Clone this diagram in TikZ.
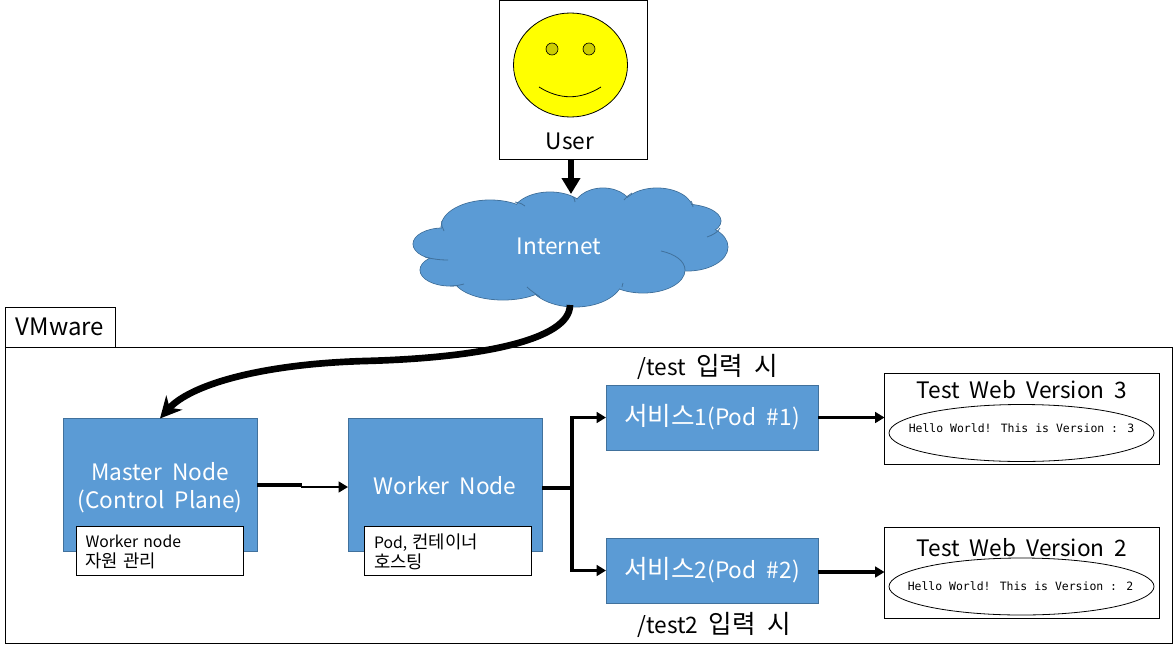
\documentclass[tikz,border=0pt]{standalone}
\usepackage{fontspec}
\usetikzlibrary{arrows.meta,shapes.geometric,calc}
\setmainfont[WordSpace=2]{Noto Sans CJK KR}
\newfontfamily\krf[Scale=1.13,WordSpace=2]{Noto Sans CJK KR}
\newfontfamily\monof{DejaVu Sans Mono}
\newcommand\kr[1]{{\krf #1}}
\definecolor{nodeblue}{HTML}{5B9BD5}
\definecolor{nodeedge}{HTML}{41719C}
\definecolor{eyeyellow}{HTML}{CDCD00}
\definecolor{faceyellow}{HTML}{FFFF00}
\tikzset{
  px/.style={x=0.75pt,y=-0.75pt},
  sized/.style n args={2}{rectangle,inner sep=0pt,outer sep=0pt,minimum width=0.75*#1pt,minimum height=0.75*#2pt},
  plainbox/.style={draw=black,fill=white,line width=0.75pt},
  bluebox/.style={draw=nodeedge,fill=nodeblue,line width=0.6pt,text=white,align=center},
  lab/.style={inner sep=0pt,outer sep=0pt,font=\fontsize{17}{20}\selectfont,align=center},
  notetext/.style={font=\fontsize{11.8}{15}\selectfont,align=left,text width=0.75*150pt},
  hello/.style={inner sep=0pt,font=\fontsize{8.6}{10}\monof},
  thin conn/.style={line width=2.6pt,-{Triangle[length=7pt,width=8pt]}},
  plain conn/.style={line width=2.6pt},
  blob/.style={fill=nodeblue},
  blobline/.style={draw=nodeedge,line width=0.6pt},
}
\begin{document}
\begin{tikzpicture}[px]
\useasboundingbox (0,0) rectangle (1173,653);
% VMware frame
\node[sized={1167}{296},plainbox] (frame) at (588.5,495) {};
\node[sized={110}{40},plainbox,font=\fontsize{18}{20}\selectfont] (tab) at (60,327) {VMware};
% User
\node[sized={148}{159},plainbox] (user) at (573,79.5) {};
\node[draw=black,fill=faceyellow,ellipse,line width=0.6pt,minimum width=0.75*114pt,minimum height=0.75*104pt,inner sep=0pt] (face) at (570.5,65) {};
\node[draw=black,fill=eyeyellow,circle,line width=0.5pt,minimum size=0.75*12pt,inner sep=0pt] (eyeL) at (552,49) {};
\node[draw=black,fill=eyeyellow,circle,line width=0.5pt,minimum size=0.75*12pt,inner sep=0pt] (eyeR) at (589,49) {};
\draw[line width=0.6pt] (539,87) .. controls (560,100) and (580,100) .. (601,87);
\node[lab] (usertext) at (570,141) {User};
% Cloud
\foreach \cx/\cy/\rx/\ry in {443/244/30/16,450/270/30/16,490/227/49/27,550/215/38/23,603/210/30/22,657/210/36/22,683/221/38/17,687/247/41/24,643/270/42/23,575/278/48/29,503/277/50/23}{
  \path[blobline,fill=nodeblue] (\cx,\cy) ellipse [x radius=\rx,y radius=\ry];
}
\foreach \cx/\cy/\rx/\ry in {443/244/30/16,450/270/30/16,490/227/49/27,550/215/38/23,603/210/30/22,657/210/36/22,683/221/38/17,687/247/41/24,643/270/42/23,575/278/48/29,503/277/50/23}{
  \path[blob] (\cx,\cy) ellipse [x radius=\rx-0.6,y radius=\ry-0.6];
}
\fill[blob] (450,232) -- (470,225) -- (530,205) -- (690,205) -- (700,235) -- (680,275) -- (620,285) -- (520,290) -- (470,285) -- (450,280) -- (440,262) -- (440,250) -- cycle;
\draw[blobline] (441.7,221) .. controls (441.5,225) and (442,228) .. (444,231);
\draw[blobline] (425,257) .. controls (432,259) and (440,260) .. (448,260);
\draw[blobline] (450,286) .. controls (456,286) and (460,285) .. (464,284);
\draw[blobline] (515,202) .. controls (520,203) and (523,204) .. (525,206);
\draw[blobline] (575,202) .. controls (575,200) and (574,198) .. (573,197);
\draw[blobline] (624,200) .. controls (626,197) and (629,195) .. (632,193);
\draw[blobline] (693,207) .. controls (693,205) and (692,203) .. (691,201);
\draw[blobline] (707,237) .. controls (713,235) and (718,232) .. (720,228);
\draw[blobline] (661,251) .. controls (675,254) and (685,261) .. (685,270);
\draw[blobline] (622,287) .. controls (622,285) and (623,284) .. (623,283);
\draw[blobline] (527,287) .. controls (531,291) and (536,294) .. (540,297);
\node[lab,text=white] (internet) at (559,246) {Internet};
\coordinate (cloudtop) at (571,194);
\coordinate (cloudbot) at (570,305);
% Nodes
\node[sized={194}{133},bluebox] (master) at (160,485) {};
\node[sized={194}{133},bluebox] (worker) at (445,485) {};
\node[lab,text=white,font=\fontsize{17}{21}\selectfont] (mastert) at (160,487.5) {Master Node\\(Control Plane)};
\node[lab,text=white,font=\fontsize{17}{21}\selectfont] (workert) at (445,486) {Worker Node};
\node[sized={167}{49},plainbox,notetext] (note1) at (159.5,551) {};
\node[sized={167}{49},plainbox,notetext] (note2) at (447.5,551) {};
\node[notetext,inner sep=0pt] (note1t) at (160.5,551.5) {Worker node\\\kr{자원 관리}};
\node[notetext,inner sep=0pt] (note2t) at (449,551.5) {Pod, \kr{컨테이너}\\\kr{호스팅}};
\node[sized={212}{65},bluebox,font=\fontsize{17}{20}\selectfont] (svc1) at (712,417.5) {\kr{서비스}1(Pod \#1)};
\node[sized={212}{65},bluebox,font=\fontsize{17}{20}\selectfont] (svc2) at (712,570.5) {\kr{서비스}2(Pod \#2)};
\node[lab] (test1) at (708,367) {/test \kr{입력 시}};
\node[lab] (test2) at (714,625) {/test2 \kr{입력 시}};
\node[sized={275}{91},plainbox] (web1) at (1022,418.5) {};
\node[sized={275}{91},plainbox] (web2) at (1022,572.5) {};
\node[lab] (web1t) at (1022,390) {Test Web Version 3};
\node[lab] (web2t) at (1022,548) {Test Web Version 2};
\node[draw=black,ellipse,line width=0.6pt,minimum width=0.75*265pt,minimum height=0.75*57pt,inner sep=0pt] (ell1) at (1021.5,433) {};
\node[draw=black,ellipse,line width=0.6pt,minimum width=0.75*265pt,minimum height=0.75*57pt,inner sep=0pt] (ell2) at (1021.5,586.5) {};
\node[hello] (h1) at (1021.5,428) {Hello World! This is Version : 3};
\node[hello] (h2) at (1020.5,586) {Hello World! This is Version : 2};
% Connectors
\draw[line width=4.2pt,-{Triangle[length=12pt,width=13.5pt]}] (user.south -| cloudtop) -- (cloudtop);
\draw[line width=5pt,-{Stealth[length=16pt,width=16pt]}] (cloudbot) .. controls (570,340) and (480,358) .. (365,361) .. controls (260,364) and (190,385) .. (master.north);
\coordinate (mwmid) at (302,487);
\draw[plain conn] (master.east) -- (mwmid |- master.east);
\draw[line width=1.6pt,-{Triangle[length=7pt,width=8pt]}] (301,487) -- (worker.west |- mwmid);
\coordinate (branch) at (572,488);
\draw[plain conn] (worker.east |- branch) -- (branch);
\draw[thin conn] (branch) -- (branch |- svc1.west) -- (svc1.west);
\draw[thin conn] (branch) -- (branch |- svc2.west) -- (svc2.west);
\draw[thin conn] (svc1.east) -- (web1.west |- svc1.east);
\coordinate (s2out) at (818,572);
\draw[thin conn] (s2out) -- (web2.west |- s2out);
\end{tikzpicture}
\end{document}
